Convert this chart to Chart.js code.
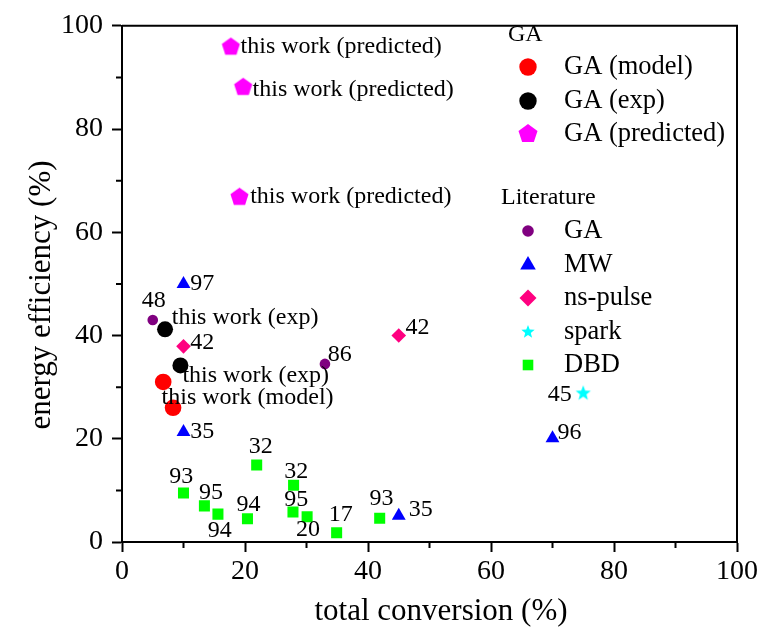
<!DOCTYPE html>
<html>
<head>
<meta charset="utf-8">
<script src="https://cdn.jsdelivr.net/npm/chart.js@4.4.1/dist/chart.umd.min.js"></script>
<style>
  body { margin: 0; background: #fff; }
  canvas { display: block; }
</style>
</head>
<body>
<canvas id="chart" width="763" height="631"></canvas>
<script>
// ============================================================
// Energy efficiency vs total conversion — GA vs literature
// ============================================================

// --- this work ---
const gaModelX = [6.7, 8.3];
const gaModelY = [31.0, 26.0];
const gaModelNotes = ['this work (model)', ''];

const gaExpX = [7.0, 9.5];
const gaExpY = [41.2, 34.2];
const gaExpNotes = ['this work (exp)', 'this work (exp)'];

const gaPredX = [17.7, 19.7, 19.1];
const gaPredY = [95.9, 88.1, 66.8];
const gaPredNotes = ['this work (predicted)', 'this work (predicted)', 'this work (predicted)'];

// --- literature (labels are reference numbers) ---
const litGaX = [5.0, 33.0];
const litGaY = [43.0, 34.5];
const litGaRefs = ['48', '86'];

const mwX = [10.0, 10.0, 45.0, 70.0];
const mwY = [50.0, 21.3, 5.1, 20.1];
const mwRefs = ['97', '35', '35', '96'];

const nsX = [10.0, 45.0];
const nsY = [37.9, 40.0];
const nsRefs = ['42', '42'];

const sparkX = [75.0];
const sparkY = [28.8];
const sparkRefs = ['45'];

const dbdX = [10.0, 13.4, 15.6, 20.4, 21.9, 27.9, 27.8, 30.1, 34.9, 41.9];
const dbdY = [9.5, 7.0, 5.4, 4.5, 14.9, 11.0, 5.8, 4.9, 1.8, 4.6];
const dbdRefs = ['93', '95', '94', '94', '32', '32', '95', '20', '17', '93'];

const xTicks = [0, 20, 40, 60, 80, 100];
const yTicks = [0, 20, 40, 60, 80, 100];
const xTitle = 'total conversion (%)';
const yTitle = 'energy efficiency (%)';

const SERIF = '"Liberation Serif", "Times New Roman", serif';

// where each note sits relative to its marker: [dx, dy, align]
const notePlace = {
    model: [[-1.6, 15.7, 'left'], [0, 0, 'left']],
    exp: [[6.7, -11.6, 'left'], [2, 10, 'left']],
    pred: [[9.7, 0, 'left'], [9.4, 2.7, 'left'], [10.7, 0, 'left']],
    litGa: [[1.1, -19, 'center'], [2.7, -9.4, 'left']],
    mw: [[6.7, 0, 'left'], [6.7, 0, 'left'], [10, -6, 'left'], [5, -6, 'left']],
    ns: [[6.7, -4, 'left'], [6.7, -7.6, 'left']],
    spark: [[-11.6, 1, 'right']],
    dbd: [[-2.3, -16, 'center'], [6.7, -13.3, 'center'], [1.7, 16.7, 'center'], [1, -14, 'center'],
          [4, -18.3, 'center'], [2.7, -13.3, 'center'], [3.4, -12.3, 'center'], [1, 13.3, 'center'],
          [4, -17.7, 'center'], [1.7, -20, 'center']]
};

// pentagon and five-point star are not built-in point styles
function makeShape(kind, r, color) {
    const c = document.createElement('canvas');
    const size = Math.ceil(r * 2) + 2;
    c.width = size;
    c.height = size;
    const g = c.getContext('2d');
    g.fillStyle = color;
    g.beginPath();
    const n = kind === 'star' ? 10 : 5;
    for (let i = 0; i < n; i++) {
        const rad = (kind === 'star' && i % 2) ? r * 0.42 : r;
        const a = -Math.PI / 2 + i * 2 * Math.PI / n;
        const px = size / 2 + rad * Math.cos(a);
        const py = size / 2 + rad * Math.sin(a);
        if (i === 0) g.moveTo(px, py); else g.lineTo(px, py);
    }
    g.closePath();
    g.fill();
    return c;
}

const pentagon = makeShape('pentagon', 9.5, '#ff00ff');
const star = makeShape('star', 8, '#00ffff');
const pentagonLegend = makeShape('pentagon', 10, '#ff00ff');
const starLegend = makeShape('star', 7, '#00ffff');

function toPoints(xs, ys) {
    return xs.map((x, i) => ({ x: x, y: ys[i] }));
}

function series(label, xs, ys, color, style, radius, notes, place) {
    return {
        label: label,
        data: toPoints(xs, ys),
        backgroundColor: color,
        borderWidth: 0,
        pointStyle: style,
        pointRadius: radius,
        notes: notes,
        place: place
    };
}

const datasets = [
    series('DBD', dbdX, dbdY, '#00ff00', 'rect', 7.8, dbdRefs, notePlace.dbd),
    series('spark', sparkX, sparkY, '#00ffff', star, 8, sparkRefs, notePlace.spark),
    series('ns-pulse', nsX, nsY, '#ff0080', 'rectRot', 7.3, nsRefs, notePlace.ns),
    series('MW', mwX, mwY, '#0000ff', 'triangle', 8, mwRefs, notePlace.mw),
    series('GA lit', litGaX, litGaY, '#800080', 'circle', 5.3, litGaRefs, notePlace.litGa),
    series('GA (predicted)', gaPredX, gaPredY, '#ff00ff', pentagon, 9.5, gaPredNotes, notePlace.pred),
    series('GA (exp)', gaExpX, gaExpY, '#000000', 'circle', 8, gaExpNotes, notePlace.exp),
    series('GA (model)', gaModelX, gaModelY, '#ff0000', 'circle', 8.3, gaModelNotes, notePlace.model)
];

// notes next to the markers
const notesPlugin = {
    id: 'notes',
    afterDatasetsDraw(chart) {
        const ctx = chart.ctx;
        ctx.save();
        ctx.fillStyle = '#000';
        ctx.font = '24px ' + SERIF;
        ctx.textBaseline = 'middle';
        chart.data.datasets.forEach((ds, di) => {
            const meta = chart.getDatasetMeta(di);
            meta.data.forEach((pt, i) => {
                const txt = ds.notes[i];
                if (!txt) return;
                const p = ds.place[i];
                ctx.textAlign = p[2];
                ctx.fillText(txt, pt.x + p[0], pt.y + p[1]);
            });
        });
        ctx.restore();
    }
};

// box frame, minor ticks and axis titles (titles sit a bit off-centre in the original)
const framePlugin = {
    id: 'frame',
    afterDraw(chart) {
        const { ctx, chartArea: a, scales } = chart;
        ctx.save();
        ctx.strokeStyle = '#000';
        ctx.lineWidth = 2;
        ctx.beginPath();
        ctx.moveTo(a.left, a.top);
        ctx.lineTo(a.right, a.top);
        ctx.lineTo(a.right, a.bottom);
        ctx.stroke();

        ctx.beginPath();
        [10, 30, 50, 70, 90].forEach(v => {
            const px = scales.x.getPixelForValue(v);
            ctx.moveTo(px, a.bottom);
            ctx.lineTo(px, a.bottom + 6);
            const py = scales.y.getPixelForValue(v);
            ctx.moveTo(a.left, py);
            ctx.lineTo(a.left - 6, py);
        });
        ctx.stroke();

        ctx.fillStyle = '#000';
        ctx.font = '31px ' + SERIF;
        ctx.textAlign = 'center';
        ctx.textBaseline = 'middle';
        ctx.fillText(xTitle, 441, 612);
        ctx.translate(42, 295);
        ctx.rotate(-Math.PI / 2);
        ctx.fillText(yTitle, 0, 0);
        ctx.restore();
    }
};

// two-part legend: this work / literature
const legendPlugin = {
    id: 'grouped-legend',
    afterDraw(chart) {
        const ctx = chart.ctx;
        const H = Chart.helpers;
        const markX = 528;
        const textX = 564;
        const rows = [
            { head: 'GA', x: 508, y: 35 },
            { label: 'GA (model)', y: 67, color: '#ff0000', style: 'circle', r: 8.7 },
            { label: 'GA (exp)', y: 101, color: '#000000', style: 'circle', r: 8.7 },
            { label: 'GA (predicted)', y: 134, color: '#ff00ff', style: pentagonLegend, r: 10 },
            { head: 'Literature', x: 501, y: 198 },
            { label: 'GA', y: 231, color: '#800080', style: 'circle', r: 5.8 },
            { label: 'MW', y: 265, color: '#0000ff', style: 'triangle', r: 9 },
            { label: 'ns-pulse', y: 298, color: '#ff0080', style: 'rectRot', r: 8.5 },
            { label: 'spark', y: 332, color: '#00ffff', style: starLegend, r: 7 },
            { label: 'DBD', y: 365, color: '#00ff00', style: 'rect', r: 7.5 }
        ];
        ctx.save();
        ctx.textBaseline = 'middle';
        ctx.textAlign = 'left';
        rows.forEach(row => {
            if (row.head) {
                ctx.fillStyle = '#000';
                ctx.font = '24px ' + SERIF;
                ctx.fillText(row.head, row.x, row.y);
                return;
            }
            ctx.fillStyle = row.color;
            H.drawPoint(ctx, { pointStyle: row.style, radius: row.r, rotation: 0, borderWidth: 0 }, markX, row.y);
            ctx.fillStyle = '#000';
            ctx.font = '26.5px ' + SERIF;
            ctx.fillText(row.label, textX, row.y);
        });
        ctx.restore();
    }
};

function axis(ticks, isX) {
    return {
        type: 'linear',
        min: 0,
        max: 100,
        afterBuildTicks: s => { s.ticks = ticks.map(v => ({ value: v })); },
        afterFit: s => {
            if (isX) s.height = 89; else s.width = 122;
        },
        ticks: {
            color: '#000',
            font: { family: SERIF, size: 28 },
            padding: isX ? 3 : 9,
            maxRotation: 0
        },
        grid: {
            drawOnChartArea: false,
            drawTicks: true,
            tickLength: 10,
            tickWidth: 2,
            tickColor: '#000'
        },
        border: { color: '#000', width: 2 },
        title: { display: false }
    };
}

new Chart(document.getElementById('chart'), {
    type: 'scatter',
    data: { datasets: datasets },
    options: {
        responsive: false,
        animation: false,
        events: [],
        layout: { padding: { top: 22, right: 26, bottom: 0, left: 0 } },
        plugins: { legend: { display: false }, tooltip: { enabled: false } },
        scales: {
            x: axis(xTicks, true),
            y: axis(yTicks, false)
        }
    },
    plugins: [notesPlugin, framePlugin, legendPlugin]
});
</script>
</body>
</html>
